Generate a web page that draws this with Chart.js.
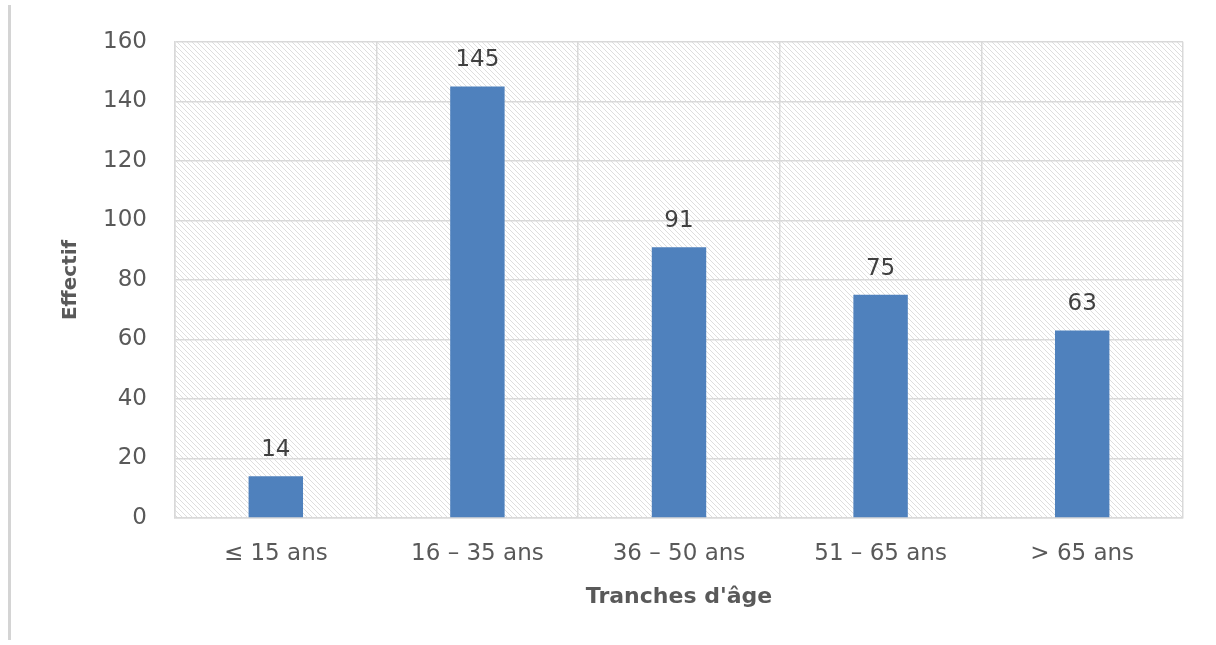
<!DOCTYPE html>
<html lang="fr">
<head>
<meta charset="utf-8">
<title>Effectif par tranches d'âge</title>
<script src="https://cdn.jsdelivr.net/npm/chart.js@4.4.1/dist/chart.umd.min.js"></script>
<style>
    html, body { margin: 0; padding: 0; background: #fff; }
    #wrap { position: relative; width: 1216px; height: 645px; }
    #edge { position: absolute; left: 8px; top: 5px; width: 3px; height: 635px; background: #d4d4d4; }
    canvas { position: absolute; left: 0; top: 0; }
</style>
</head>
<body>
<div id="wrap">
    <div id="edge"></div>
    <canvas id="ages" width="1216" height="645"></canvas>
</div>
<script>
const categories = ['≤ 15 ans', '16 – 35 ans', '36 – 50 ans', '51 – 65 ans', '> 65 ans'];
const effectifs = [14, 145, 91, 75, 63];
const yTicks = [0, 20, 40, 60, 80, 100, 120, 140, 160];

const FONT = "'DejaVu Sans', 'Noto Sans', sans-serif";

// diagonal hatch tile for the plot background
function hatchPattern(ctx) {
    const s = 5;
    const tile = document.createElement('canvas');
    tile.width = s;
    tile.height = s;
    const t = tile.getContext('2d');
    t.fillStyle = '#ffffff';
    t.fillRect(0, 0, s, s);
    t.strokeStyle = '#dedede';
    t.lineWidth = 1;
    t.beginPath();
    for (const k of [-s, 0, s]) {
        t.moveTo(k, 0);
        t.lineTo(k + s, s);
    }
    t.stroke();
    return ctx.createPattern(tile, 'repeat');
}

const hatchBackground = {
    id: 'hatchBackground',
    beforeDraw(chart) {
        const { ctx, chartArea: a } = chart;
        ctx.save();
        ctx.fillStyle = hatchPattern(ctx);
        ctx.fillRect(a.left, a.top, a.right - a.left, a.bottom - a.top);
        ctx.restore();
    },
};

const valueLabels = {
    id: 'valueLabels',
    afterDatasetsDraw(chart) {
        const { ctx } = chart;
        const meta = chart.getDatasetMeta(0);
        ctx.save();
        ctx.font = `23px ${FONT}`;
        ctx.fillStyle = '#404040';
        ctx.textAlign = 'center';
        ctx.textBaseline = 'alphabetic';
        meta.data.forEach((bar, i) => {
            ctx.fillText(String(effectifs[i]), bar.x, bar.y - 20);
        });
        ctx.restore();
    },
};

new Chart(document.getElementById('ages'), {
    type: 'bar',
    data: {
        labels: categories,
        datasets: [
            {
                data: effectifs,
                backgroundColor: '#4f81bd',
                borderWidth: 0,
                categoryPercentage: 1,
                barPercentage: 0.27,
            },
        ],
    },
    options: {
        responsive: false,
        animation: false,
        events: [],
        layout: { padding: { left: 0, right: 33, top: 41, bottom: 0 } },
        plugins: {
            legend: { display: false },
            tooltip: { enabled: false },
        },
        scales: {
            x: {
                grid: { color: '#d9d9d9', lineWidth: 1.5, drawTicks: false },
                border: { color: '#d9d9d9', width: 1.5 },
                ticks: { color: '#595959', font: { family: FONT, size: 23 }, padding: 22 },
                title: {
                    display: true,
                    text: "Tranches d'âge",
                    color: '#595959',
                    font: { family: FONT, size: 22, weight: 'bold' },
                    padding: { top: 0, bottom: 35 },
                },
                afterFit(scale) {
                    scale.height = 127;
                },
            },
            y: {
                min: 0,
                max: 160,
                afterBuildTicks(scale) {
                    scale.ticks = yTicks.map((v) => ({ value: v }));
                },
                grid: { color: '#d9d9d9', lineWidth: 1.5, drawTicks: false },
                border: { color: '#d9d9d9', width: 1.5 },
                ticks: { color: '#595959', font: { family: FONT, size: 23 }, padding: 28 },
                title: {
                    display: true,
                    text: 'Effectif',
                    color: '#595959',
                    font: { family: FONT, size: 20, weight: 'bold' },
                    padding: { top: 59, bottom: 0 },
                },
                afterFit(scale) {
                    scale.width = 175;
                },
            },
        },
    },
    plugins: [hatchBackground, valueLabels],
});
</script>
</body>
</html>
